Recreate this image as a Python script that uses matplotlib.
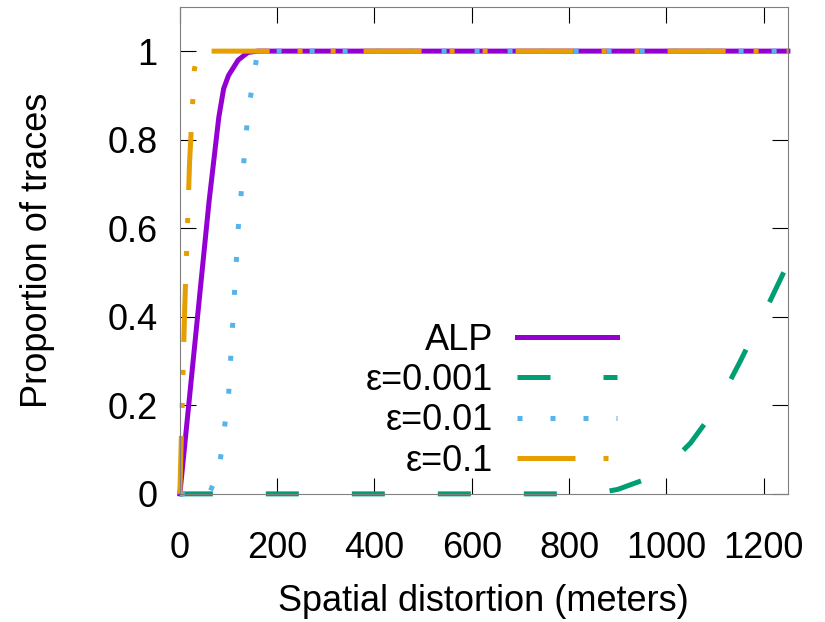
import matplotlib.pyplot as plt
from matplotlib.ticker import FixedLocator
plt.rcParams['font.family'] = ['Liberation Sans', 'DejaVu Sans']

# 数据：每条曲线的横坐标(米)与累计比例
alp_x = [0, 20, 40, 60, 80, 90, 100, 120, 140, 160, 1250]
alp_y = [0, 0.22, 0.44, 0.66, 0.85, 0.915, 0.945, 0.98, 0.997, 1.0, 1.0]

e001_x = [0, 850, 900, 950, 1000, 1050, 1100, 1150, 1200, 1250]
e001_y = [0, 0, 0.01, 0.03, 0.06, 0.115, 0.19, 0.295, 0.405, 0.52]

e01_x = [0, 60, 80, 100, 120, 140, 160, 1250]
e01_y = [0, 0, 0.05, 0.22, 0.6, 0.86, 1.0, 1.0]

e1_x = [0, 10, 20, 30, 40, 1250]
e1_y = [0, 0.42, 0.75, 0.96, 1.0, 1.0]

labels = ['ALP', 'ε=0.001', 'ε=0.01', 'ε=0.1']
colors = ['#9400D3', '#009E73', '#56B4E9', '#E69F00']
x_ticks = [0, 200, 400, 600, 800, 1000, 1200]
y_ticks = [0, 0.2, 0.4, 0.6, 0.8, 1]
y_ticklabels = ['0', '0.2', '0.4', '0.6', '0.8', '1']

fig = plt.figure(figsize=(8.25, 6.22), dpi=100)
ax = fig.add_axes([0.218, 0.206, 0.737, 0.783])

lw = 3.6
ax.plot(alp_x, alp_y, color=colors[0], lw=lw, label=labels[0], clip_on=False)
ax.plot(e001_x, e001_y, color=colors[1], lw=lw, dashes=(6.6, 10.6), label=labels[1], clip_on=False)
ax.plot(e01_x, e01_y, color=colors[2], lw=lw, dashes=(1, 5.6), label=labels[2], clip_on=False)
ax.plot(e1_x, e1_y, color=colors[3], lw=lw, dashes=(11.6, 5.6, 1, 5.6, 1, 5.6), label=labels[3], clip_on=False)

ax.set_xlim(0, 1250)
ax.set_ylim(0, 1.1)
ax.xaxis.set_major_locator(FixedLocator(x_ticks))
ax.set_yticks(y_ticks)
ax.set_yticklabels(y_ticklabels)
ax.tick_params(direction='in', length=11.5, width=0.8, colors='black', labelsize=26,
               top=True, right=True)
ax.tick_params(axis='x', pad=27)
ax.tick_params(axis='y', pad=16)
for s in ax.spines.values():
    s.set_color('#808080')
    s.set_linewidth(0.8)

ax.set_xlabel('Spatial distortion (meters)', fontsize=26, labelpad=13)
ax.set_ylabel('Proportion of traces', fontsize=26, labelpad=38)

ax.legend(loc='lower right', bbox_to_anchor=(0.719, 0.031), frameon=False, fontsize=26,
          markerfirst=False, handlelength=2.77, handletextpad=0.66, labelspacing=0.15,
          borderpad=0, borderaxespad=0)

fig.savefig('out.png', dpi=100)
